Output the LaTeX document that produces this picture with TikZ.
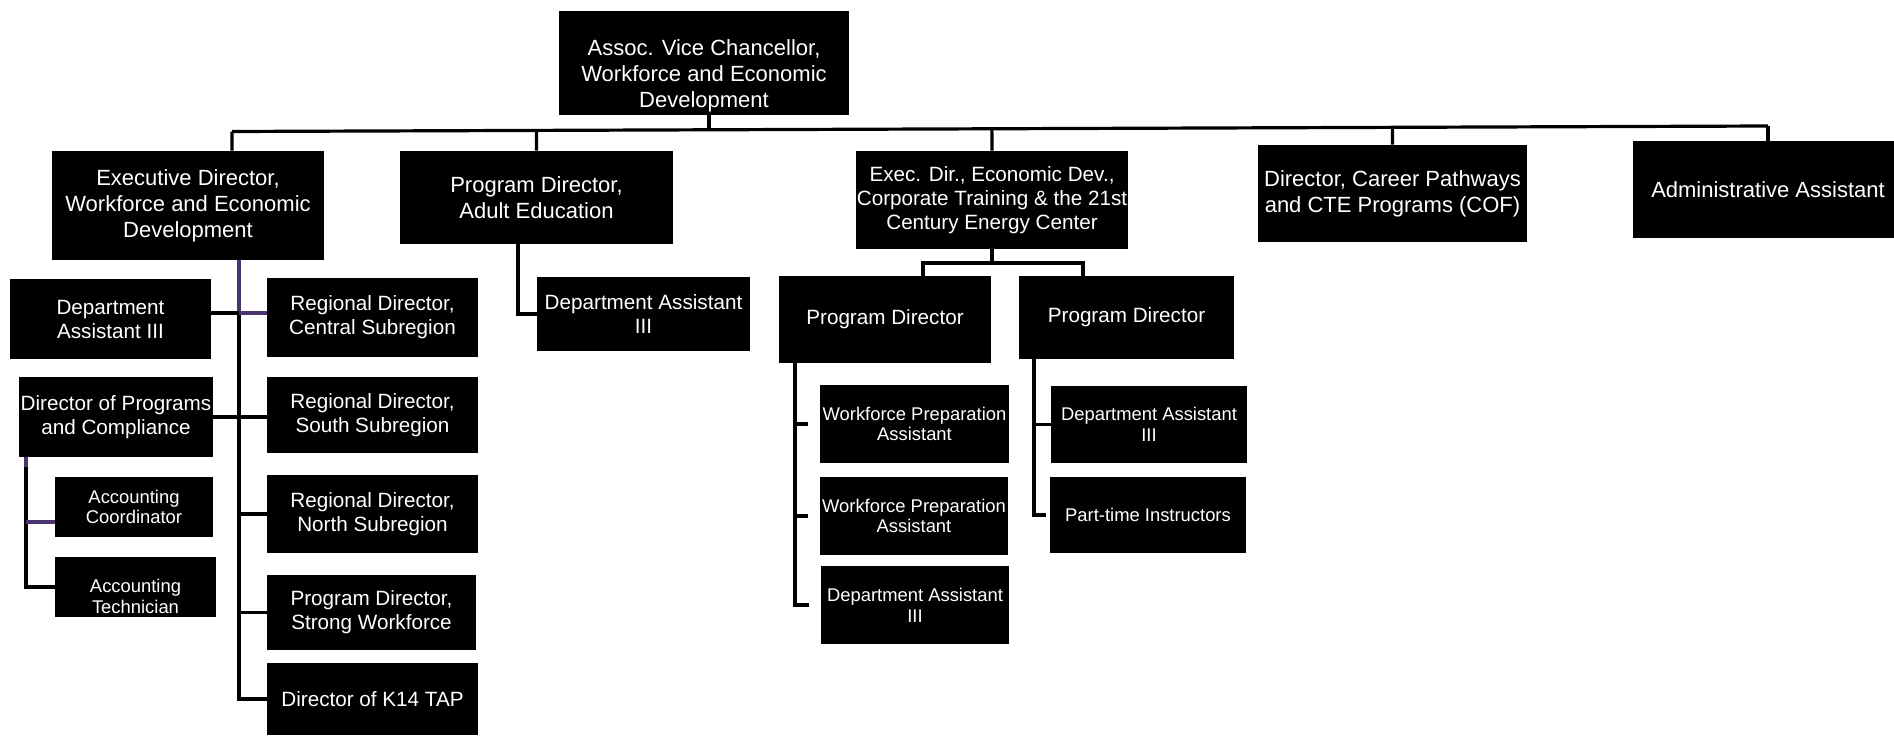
\documentclass[tikz,border=0pt]{standalone}
\usepackage{fontspec}
\setmainfont{Liberation Sans}
\usetikzlibrary{calc}
\definecolor{lnpurple}{RGB}{76,52,110}
\newcommand{\fL}{\fontsize{16.5}{19.5}\selectfont}
\newcommand{\fM}{\fontsize{15.5}{18}\selectfont}
\newcommand{\fS}{\fontsize{13.8}{15.5}\selectfont}
\tikzset{
  box/.style={fill=black, text=white, inner sep=0pt, align=center},
  conn/.style={draw=black, line width=2.4pt},
  pconn/.style={draw=lnpurple, line width=2.4pt},
}
% \orgbox[options]{name}{x1}{y1}{x2}{y2}{text}
\newcommand{\orgbox}[7][]{%
  \pgfmathsetmacro{\obcx}{(#3+#5)/2}%
  \pgfmathsetmacro{\obcy}{(#4+#6)/2}%
  \pgfmathsetmacro{\obw}{(#5-#3)*0.75}%
  \pgfmathsetmacro{\obh}{(#6-#4)*0.75}%
  \node[box, minimum width=\obw pt, minimum height=\obh pt, #1] (#2) at (\obcx,\obcy) {#7};}
\begin{document}
\begin{tikzpicture}[x=0.75pt,y=-0.75pt]
\useasboundingbox[fill=white] (0,0) rectangle (1894,735);
% level 0
\orgbox[font=\fL]{root}{559}{11}{849}{115}{\rule{0pt}{31pt}Assoc. Vice Chancellor,\\Workforce and Economic\\Development}
% level 1
\orgbox[font=\fL]{ed}{52}{151}{324}{260}{Executive Director,\\Workforce and Economic\\Development}
\orgbox[font=\fL]{ae}{400}{151}{673}{244}{Program Director,\\Adult Education}
\orgbox[font=\fM]{ex}{856}{151}{1128}{249}{Exec. Dir., Economic Dev.,\\Corporate Training \& the 21st\\Century Energy Center}
\orgbox[font=\fL]{cp}{1258}{145}{1527}{242}{Director, Career Pathways\\and CTE Programs (COF)}
\orgbox[font=\fL]{aa}{1633}{141}{1903}{238}{Administrative Assistant}
% executive director branch
\orgbox[font=\fM]{da1}{10}{279}{211}{359}{Department\\Assistant III}
\orgbox[font=\fM]{rc}{267}{278}{478}{357}{Regional Director,\\Central Subregion}
\orgbox[font=\fM]{dpc}{19}{377}{213}{457}{Director of Programs\\and Compliance}
\orgbox[font=\fM]{rs}{267}{377}{478}{453}{Regional Director,\\South Subregion}
\orgbox[font=\fS]{acc}{55}{477}{213}{537}{Accounting\\Coordinator}
\orgbox[font=\fS]{act}{55}{557}{216}{617}{\rule{0pt}{24pt}Accounting\\Technician}
\orgbox[font=\fM]{rn}{267}{475}{478}{553}{Regional Director,\\North Subregion}
\orgbox[font=\fM]{psw}{267}{575}{476}{650}{Program Director,\\Strong Workforce}
\orgbox[font=\fM]{k14}{267}{663}{478}{735}{Director of K14 TAP}
% adult education branch
\orgbox[font=\fM]{aeda}{537}{277}{750}{351}{Department Assistant\\III}
% exec econ branch
\orgbox[font=\fM]{pd1}{779}{276}{991}{363}{Program Director}
\orgbox[font=\fM]{pd2}{1019}{276}{1234}{359}{Program Director}
\orgbox[font=\fS]{wpa1}{820}{385}{1009}{463}{Workforce Preparation\\Assistant}
\orgbox[font=\fS]{wpa2}{820}{477}{1008}{555}{Workforce Preparation\\Assistant}
\orgbox[font=\fS]{da3}{821}{566}{1009}{644}{Department Assistant\\III}
\orgbox[font=\fS]{da4}{1051}{386}{1247}{463}{Department Assistant\\III}
\orgbox[font=\fS]{pti}{1050}{477}{1246}{553}{Part-time Instructors}

% top bus
\coordinate (busL) at (232,131.5);
\coordinate (busR) at (1768,126);
\coordinate (rootstem) at (709,129);
\draw[conn] (busL) -- (busR);
\draw[conn] (root.south -| rootstem) -- (rootstem);
\draw[conn] ($(busL)!([xshift=33pt]ed.north)!(busR)$) -- ([xshift=33pt]ed.north);
\draw[conn] ($(busL)!(ae.north)!(busR)$) -- (ae.north);
\draw[conn] ($(busL)!(ex.north)!(busR)$) -- (ex.north);
\draw[conn] ($(busL)!(cp.north)!(busR)$) -- (cp.north);
\draw[conn] (busR) -- (busR |- aa.north);

% executive director children
\coordinate (t1) at (239,313);
\draw[conn] (t1) |- (k14.west);
\draw[pconn] (ed.south -| t1) -- (t1);
\draw[conn] (t1) -- (t1 -| da1.east);
\draw[pconn] (t1) -- (t1 -| rc.west);
\draw[conn] (dpc.east) -- (dpc.east -| rs.west);
\draw[conn] (rn.west -| t1) -- (rn.west);
\draw[conn] (psw.west -| t1) -- (psw.west);

% director of programs children
\coordinate (d1) at (26,522);
\draw[conn] (dpc.south -| d1) |- (act.west);
\draw[pconn] (dpc.south -| d1) -- ++(0,10);
\draw[pconn] (d1) -- (d1 -| acc.west);

% adult education child
\coordinate (a1) at (518,300);
\draw[conn] (ae.south -| a1) |- (aeda.west);

% exec econ children
\coordinate (e1) at (992,263);
\draw[conn] (ex.south) -- (e1);
\draw[conn] (pd1.north -| 923,0) |- (e1);
\draw[conn] (pd2.north -| 1083,0) |- (e1);

% program director 1 children
\coordinate (p1) at (795,400);
\draw[conn, shorten >=9pt] (pd1.south -| p1) |- (da3.west);
\draw[conn, shorten >=9pt] (wpa1.west -| p1) -- (wpa1.west);
\draw[conn, shorten >=9pt] (wpa2.west -| p1) -- (wpa2.west);

% program director 2 children
\coordinate (p2) at (1034,400);
\draw[conn, shorten >=3pt] (pd2.south -| p2) |- (pti.west);
\draw[conn] (da4.west -| p2) -- (da4.west);
\end{tikzpicture}
\end{document}
